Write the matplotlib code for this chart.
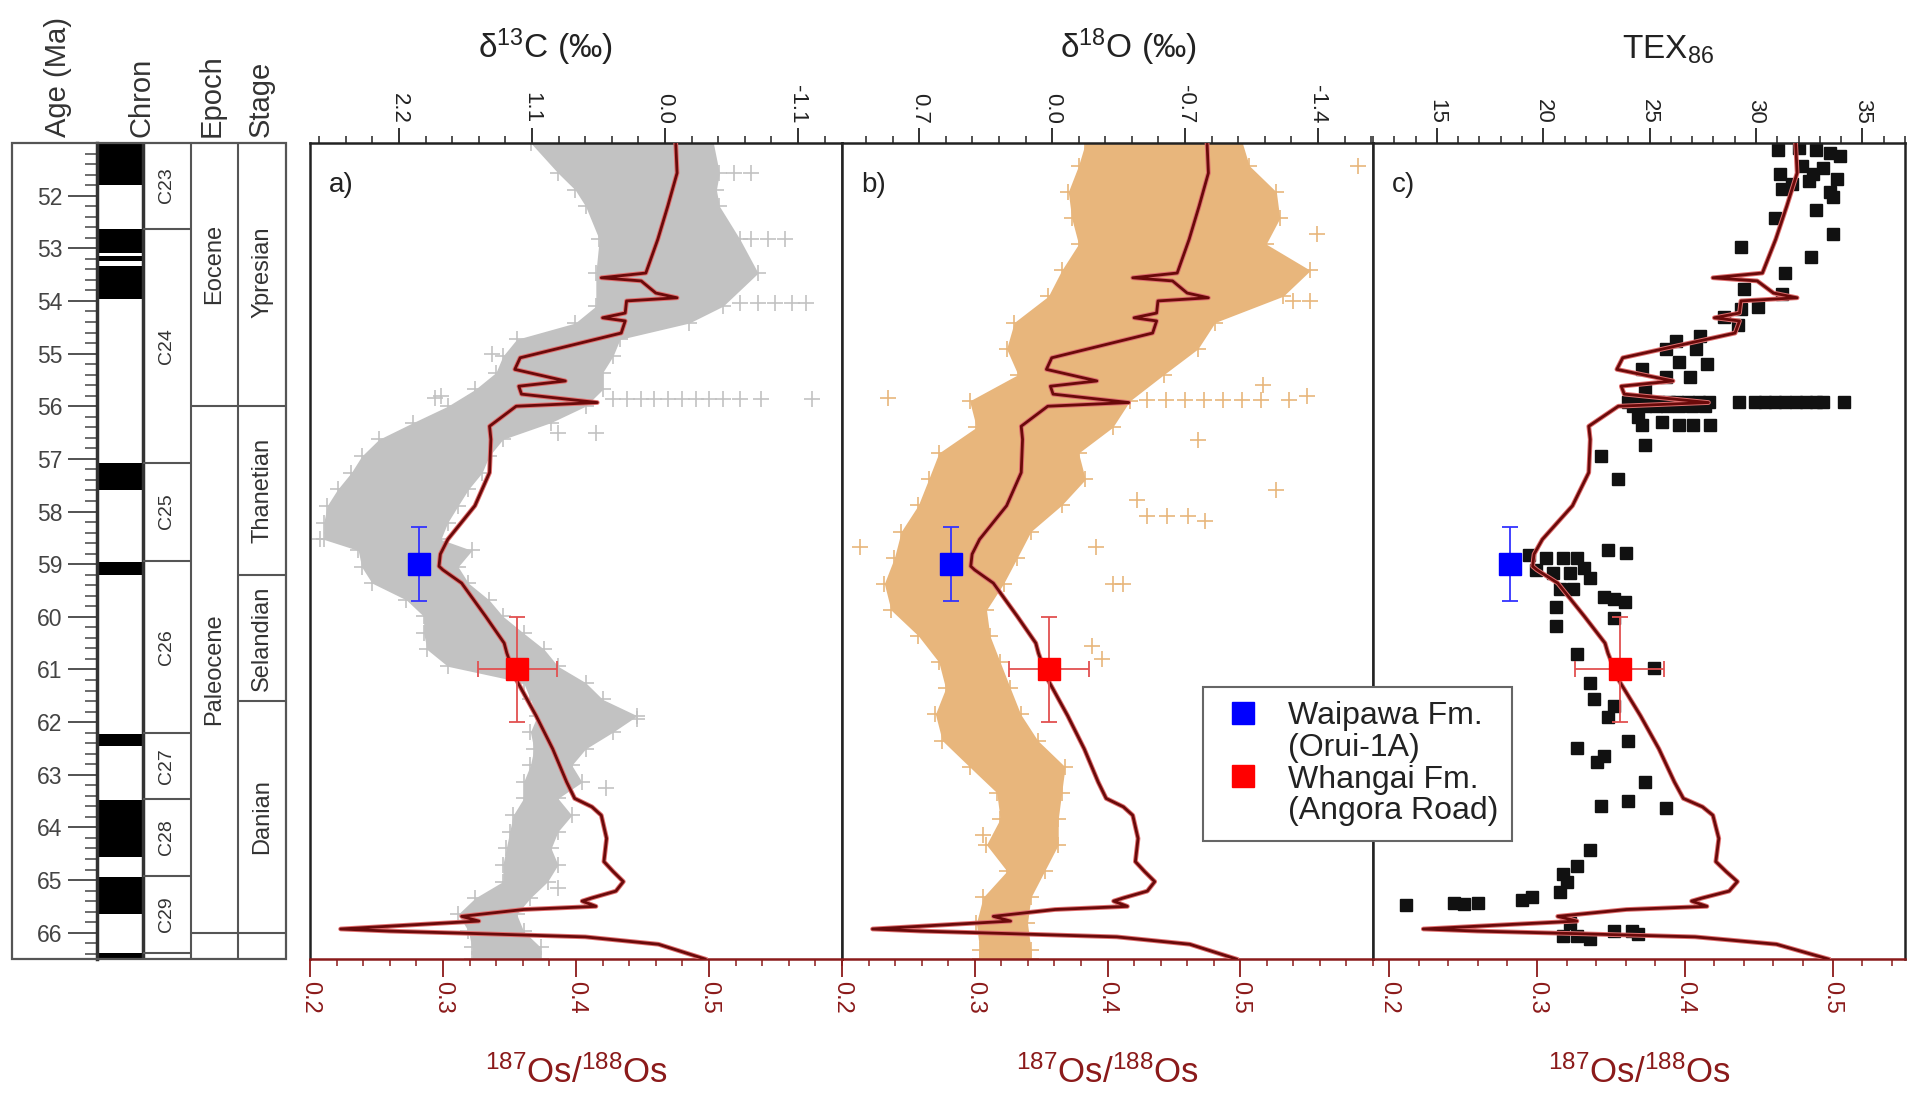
import matplotlib as mpl
mpl.use('Agg')
import matplotlib.pyplot as plt
import matplotlib.patheffects as pe
from matplotlib.lines import Line2D
from matplotlib.patches import Rectangle
from matplotlib.ticker import FixedLocator, MultipleLocator, FormatStrFormatter

plt.rcParams['font.family'] = ['Liberation Sans', 'DejaVu Sans']
plt.rcParams['mathtext.fontset'] = 'custom'
plt.rcParams['mathtext.rm'] = 'Liberation Sans'
plt.rcParams['mathtext.it'] = 'Liberation Sans:italic'
plt.rcParams['mathtext.default'] = 'regular'

age_top, age_bottom = 51.0, 66.5
age_ticks = list(range(52, 67))

# --- timescale column ---
chron_normal = [(51.0, 51.79), (52.64, 53.08), (53.14, 53.25), (53.34, 53.97),
                (57.08, 57.59), (58.96, 59.20), (62.22, 62.45), (63.48, 64.56),
                (64.94, 65.64), (66.38, 66.5)]
chron_bounds = [52.64, 57.07, 58.94, 62.2, 63.46, 64.92, 66.38]
chron_names = ['C23', 'C24', 'C25', 'C26', 'C27', 'C28', 'C29']
chron_mid = [51.8, 54.85, 58.0, 60.57, 62.83, 64.19, 65.65]
epoch_bounds = [56.0, 66.0]
epoch_names = ['Eocene', 'Paleocene']
epoch_mid = [53.3, 61.0]
stage_bounds = [56.0, 59.2, 61.6, 66.0]
stage_names = ['Ypresian', 'Thanetian', 'Selandian', 'Danian']
stage_mid = [53.45, 57.6, 60.4, 63.8]

# --- 187Os/188Os record ---
os_age = [51.0, 51.57, 52.20, 52.83, 53.47, 53.56, 53.62, 53.85, 53.94, 54.00,
          54.23, 54.32, 54.38, 54.61, 55.08, 55.30, 55.52, 55.62, 55.77, 55.93,
          56.00, 56.38, 56.63, 57.26, 57.89, 58.53, 58.81, 59.04, 59.11, 59.36,
          59.99, 60.50, 60.69, 61.19, 61.88, 62.51, 63.14, 63.45, 63.61, 63.77,
          64.21, 64.65, 64.84, 65.03, 65.21, 65.34, 65.40, 65.50, 65.56, 65.69,
          65.78, 65.84, 65.93, 65.97, 66.02, 66.08, 66.22, 66.5]
os_val = [0.475, 0.476, 0.469, 0.4615, 0.4525, 0.419, 0.449, 0.460, 0.476, 0.438,
          0.437, 0.420, 0.437, 0.434, 0.358, 0.354, 0.392, 0.357, 0.359, 0.416,
          0.355, 0.335, 0.336, 0.335, 0.324, 0.3036, 0.298, 0.297, 0.300, 0.314,
          0.332, 0.346, 0.348, 0.355, 0.370, 0.3825, 0.393, 0.399, 0.412, 0.419,
          0.423, 0.421, 0.428, 0.4356, 0.430, 0.412, 0.4046, 0.415, 0.3605, 0.314,
          0.327, 0.285, 0.223, 0.2596, 0.329, 0.407, 0.462, 0.497]

# Waipawa Fm. (Orui-1A) and Whangai Fm. (Angora Road)
site_age = [59.0, 61.0]
site_os = [0.282, 0.356]
site_age_err = [0.7, 1.0]
site_os_err = [0.0, 0.03]
site_color = ['#0000ff', '#ff0000']
site_ecolor = ['#3333ff', '#e25050']
site_label = ['Waipawa Fm.', 'Whangai Fm.']
site_note = ['(Orui-1A)', '(Angora Road)']

# --- benthic d13C cloud ---
c13_age = [51.0, 51.57, 51.89, 52.20, 52.83, 53.47, 54.10, 54.42, 54.73, 55.05,
           55.36, 55.68, 56.00, 56.31, 56.63, 56.95, 57.26, 57.58, 57.89, 58.21,
           58.53, 58.74, 59.05, 59.36, 59.68, 59.99, 60.31, 60.62, 60.94, 61.25,
           61.57, 61.88, 62.19, 62.51, 62.82, 63.14, 63.45, 63.77, 64.08, 64.40,
           64.71, 65.03, 65.34, 65.65, 65.97, 66.28, 66.5]
c13_hi = [1.11, 0.885, 0.743, 0.657, 0.544, 0.572, 0.572, 0.743, 1.227, 1.341,
          1.398, 1.569, 1.797, 2.082, 2.366, 2.509, 2.594, 2.708, 2.794, 2.822,
          2.822, 2.537, 2.509, 2.423, 2.139, 1.996, 1.996, 1.968, 1.797, 1.170,
          1.113, 1.056, 1.113, 1.084, 1.113, 1.170, 1.170, 1.256, 1.284, 1.313,
          1.341, 1.341, 1.569, 1.711, 1.626, 1.597, 1.597]
c13_lo = [-0.40, -0.45, -0.425, -0.45, -0.62, -0.77, -0.48, -0.20, 0.373, 0.43,
          0.515, 0.515, 0.657, 0.942, 1.341, 1.455, 1.512, 1.626, 1.711, 1.797,
          1.854, 1.597, 1.711, 1.626, 1.455, 1.341, 1.170, 0.999, 0.885, 0.657,
          0.515, 0.23, 0.43, 0.657, 0.771, 0.686, 0.885, 0.771, 0.885, 0.942,
          0.885, 0.971, 1.113, 1.227, 1.170, 1.028, 1.028]
c13_out_age = [55.87, 55.87, 55.87, 55.87, 55.87, 55.87, 55.87, 55.87, 55.87, 55.87,
               55.87, 55.87, 54.04, 54.04, 54.04, 54.04, 54.04, 52.83, 52.83, 52.83,
               51.57, 51.57, 55.0, 55.8, 55.8, 56.5, 56.5, 58.53, 58.4, 61.95,
               61.95, 63.25, 65.15, 55.84]
c13_out_val = [0.43, 0.316, 0.202, 0.088, -0.026, -0.14, -0.254, -0.368, -0.48, -0.62,
               -0.795, -1.22, -0.62, -0.77, -0.91, -1.05, -1.17, -0.71, -0.85, -0.99,
               -0.57, -0.71, 1.43, 1.85, 1.57, 0.885, 0.57, 2.85, 2.75, 0.37,
               0.23, 0.49, 0.885, 1.90]

# --- benthic d18O cloud ---
o18_age = [51.0, 51.43, 51.93, 52.43, 52.92, 53.42, 53.91, 54.41, 54.91, 55.40,
           55.90, 56.40, 56.89, 57.39, 57.88, 58.38, 58.88, 59.37, 59.87, 60.36,
           60.86, 61.36, 61.85, 62.35, 62.85, 63.34, 63.84, 64.33, 64.83, 65.33,
           65.82, 66.32, 66.5]
o18_hi = [-0.175, -0.139, -0.085, -0.103, -0.139, -0.050, 0.02, 0.20, 0.24, 0.18,
          0.435, 0.399, 0.597, 0.651, 0.705, 0.795, 0.831, 0.884, 0.849, 0.705,
          0.597, 0.561, 0.615, 0.579, 0.435, 0.292, 0.274, 0.346, 0.238, 0.364,
          0.399, 0.382, 0.382]
o18_lo = [-1.002, -1.038, -1.181, -1.199, -1.127, -1.36, -1.217, -0.858, -0.768, -0.588,
          -0.409, -0.319, -0.139, -0.175, -0.050, 0.112, 0.184, 0.256, 0.346, 0.328,
          0.274, 0.220, 0.166, 0.076, -0.068, -0.050, -0.032, -0.032, 0.040, 0.112,
          0.130, 0.112, 0.112]
o18_out_age = [55.85, 55.80, 55.60, 56.64, 57.59, 57.78, 58.08, 58.08, 58.08, 58.18,
               58.68, 58.68, 59.37, 59.37, 60.56, 60.81, 64.14, 51.43, 52.72, 54.01,
               54.01, 53.91, 55.88, 55.88, 55.88, 55.88, 55.88, 55.88, 55.88, 55.88]
o18_out_val = [0.867, -1.343, -1.11, -0.768, -1.18, -0.445, -0.499, -0.606, -0.714, -0.804,
               1.01, -0.229, -0.319, -0.373, -0.211, -0.265, 0.364, -1.612, -1.397, -1.271,
               -1.36, -1.0, -0.50, -0.60, -0.70, -0.80, -0.90, -1.0, -1.1, -1.25]

# --- TEX86 ---
tex_age = [51.14, 51.09, 51.14, 51.19, 51.24, 51.58, 51.43, 51.58, 51.48, 51.68,
           51.88, 51.78, 51.73, 51.93, 52.03, 52.28, 52.43, 52.72, 52.97, 53.17,
           53.47, 53.77, 53.87, 54.11, 54.16, 54.31, 54.46, 54.66, 54.76, 54.91,
           54.91, 55.16, 55.20, 55.30, 55.45, 55.45, 55.70,
           55.92, 55.92, 55.92, 55.92, 55.92, 55.92, 55.92, 55.92, 55.92,
           56.0, 56.0, 56.0, 56.0, 56.0, 56.0, 56.0,
           55.92, 55.92, 55.92, 55.92, 55.92, 55.92, 55.92, 55.92, 55.92, 55.92,
           56.20, 56.35, 56.30, 56.35, 56.35, 56.35, 56.74, 56.94, 57.39,
           58.83, 58.88, 59.12, 59.17, 58.88, 58.88, 59.07, 59.17, 59.27, 58.73,
           58.78, 59.47, 59.47, 59.82, 59.62, 59.67, 59.72, 60.02, 60.17, 60.71,
           60.98, 61.26, 61.56, 61.70, 61.90, 62.50, 62.35, 62.65, 62.75, 63.14,
           63.59, 63.49, 63.64, 64.43, 64.73, 64.88, 65.03, 65.23, 65.47, 65.43,
           65.45, 65.43, 65.38, 65.33, 65.82, 66.07, 66.07, 66.12, 65.97, 65.97,
           66.02]
tex_val = [31.05, 32.02, 32.82, 33.46, 33.95, 31.13, 32.18, 32.66, 33.14, 33.79,
           31.22, 31.70, 32.50, 33.46, 33.62, 32.82, 30.89, 33.62, 29.29, 32.58,
           31.38, 29.45, 31.22, 30.09, 29.29, 28.48, 29.13, 27.36, 26.24, 25.75,
           27.20, 26.40, 27.68, 24.63, 25.75, 26.88, 24.79,
           24.0, 24.5, 25.0, 25.4, 25.9, 26.3, 26.8, 27.3, 27.8,
           24.2, 24.8, 25.3, 25.8, 26.4, 27.0, 27.6,
           29.21, 29.93, 30.41, 30.89, 31.38, 31.86, 32.34, 32.82, 33.14, 34.11,
           24.47, 24.63, 25.59, 26.40, 27.04, 27.84, 24.79, 22.70, 23.50,
           19.33, 20.13, 19.65, 20.45, 20.94, 21.58, 21.90, 21.26, 22.22, 23.02,
           23.91, 20.77, 21.42, 20.61, 22.86, 23.34, 23.83, 23.34, 20.61, 21.58,
           25.19, 22.22, 22.38, 23.34, 23.02, 21.58, 23.99, 22.86, 22.54, 24.79,
           22.70, 23.99, 25.75, 22.22, 21.58, 20.94, 21.10, 20.77, 13.55, 15.80,
           16.28, 16.92, 19.01, 19.49, 21.26, 20.94, 21.58, 22.22, 23.34, 24.15,
           24.47]

W, H = 1923.0, 1095.0
OS_RED = '#8b1a1a'
INK = '#222222'


def box(x0, y0, x1, y1):
    return [x0 / W, 1 - y1 / H, (x1 - x0) / W, (y1 - y0) / H]


fig = plt.figure(figsize=(W / 100, H / 100), dpi=100)

# timescale column
col = fig.add_axes(box(12, 143, 286, 959))
col.set_xlim(0, 1)
col.set_ylim(age_bottom, age_top)
x_chron0, x_chron1, x_epoch, x_stage = 0.310, 0.478, 0.653, 0.825
for s in ['top', 'right', 'bottom']:
    col.spines[s].set_visible(False)
col.spines['left'].set_position(('axes', x_chron0))
col.spines['left'].set_linewidth(2.5)
col.spines['left'].set_color('#333333')
col.set_xticks([])
col.yaxis.set_major_locator(FixedLocator(age_ticks))
col.yaxis.set_minor_locator(MultipleLocator(0.2))
col.tick_params(axis='y', which='major', direction='out', length=21, width=1.3,
                labelsize=16.5, pad=4, colors='#444444')
col.tick_params(axis='y', which='minor', direction='out', length=8.5, width=1.1,
                colors='#444444')
col.add_patch(Rectangle((0, 0), 1, 1, transform=col.transAxes, fill=False,
                        lw=1.6, ec='#555555', zorder=5, clip_on=False))
for a0, a1 in chron_normal:
    col.axhspan(a0, a1, xmin=x_chron0, xmax=x_chron1, color='black', lw=0)
col.axvline(x_chron1, color='#333333', lw=2.5)
col.axvline(x_epoch, color='#555555', lw=1.5)
col.axvline(x_stage, color='#555555', lw=1.5)
col.hlines(chron_bounds, x_chron1, x_epoch, color='#555555', lw=1.5)
col.hlines(epoch_bounds, x_epoch, x_stage, color='#555555', lw=1.5)
col.hlines(stage_bounds, x_stage, 1, color='#555555', lw=1.5)
for name, mid in zip(chron_names, chron_mid):
    col.text((x_chron1 + x_epoch) / 2, mid, name, rotation=90, ha='center',
             va='center', fontsize=14, color='#333333')
for name, mid in zip(epoch_names, epoch_mid):
    col.text((x_epoch + x_stage) / 2, mid, name, rotation=90, ha='center',
             va='center', fontsize=17, color='#333333')
for name, mid in zip(stage_names, stage_mid):
    col.text((x_stage + 1) / 2, mid, name, rotation=90, ha='center',
             va='center', fontsize=17, color='#333333')
for name, xc in [('Age (Ma)', 0.168), ('Chron', 0.471), ('Epoch', 0.730), ('Stage', 0.909)]:
    col.text(xc, 1.007, name, rotation=90, ha='center', va='bottom',
             fontsize=21, color='#333333', transform=col.transAxes)


def panel(rect, proxy_lim, proxy_ticks, proxy_minor, proxy_fmt, os_lim,
          letter, title, title_x):
    ax = fig.add_axes(rect)
    ax.set_ylim(age_bottom, age_top)
    ax.set_xlim(*proxy_lim)
    ax.set_yticks([])

    osx = ax.twiny()
    osx.set_xlim(*os_lim)
    osx.set_ylim(age_bottom, age_top)

    # twiny moves the host ticks to the bottom, so put them back on top
    ax.xaxis.set_ticks_position('top')
    ax.tick_params(axis='x', which='both', labeltop=True, labelbottom=False)
    ax.xaxis.set_major_locator(FixedLocator(proxy_ticks))
    ax.xaxis.set_minor_locator(MultipleLocator(proxy_minor))
    ax.xaxis.set_major_formatter(FormatStrFormatter(proxy_fmt))
    ax.tick_params(axis='x', which='major', direction='out', length=11, width=1.3,
                   labelsize=16, labelrotation=-90, pad=3, colors=INK)
    ax.tick_params(axis='x', which='minor', direction='out', length=5, width=1.1,
                   colors=INK)
    ax.spines['bottom'].set_visible(False)
    for s in ['top', 'left', 'right']:
        ax.spines[s].set_linewidth(1.8)
        ax.spines[s].set_color('#222222')
    ax.text(0.036, 0.949, letter, transform=ax.transAxes, fontsize=20,
            va='center', ha='left', color=INK)
    ax.text(title_x, 1.104, title, transform=ax.transAxes, fontsize=24,
            ha='center', va='baseline', color=INK)

    osx.xaxis.set_ticks_position('bottom')
    osx.xaxis.set_label_position('bottom')
    osx.xaxis.set_major_locator(FixedLocator([0.2, 0.3, 0.4, 0.5]))
    osx.xaxis.set_minor_locator(MultipleLocator(0.02))
    osx.xaxis.set_major_formatter(FormatStrFormatter('%.1f'))
    osx.tick_params(axis='x', which='major', direction='out', length=13, width=1.3,
                    labelsize=17, labelrotation=-90, pad=3, colors=OS_RED)
    osx.tick_params(axis='x', which='minor', direction='out', length=5, width=1.1,
                    colors=OS_RED)
    for s in ['top', 'left', 'right']:
        osx.spines[s].set_visible(False)
    osx.spines['bottom'].set_color(OS_RED)
    osx.spines['bottom'].set_linewidth(1.8)
    osx.text(0.5, -0.152, r'$^{187}$Os/$^{188}$Os', transform=osx.transAxes,
             fontsize=25, ha='center', va='baseline', color=OS_RED)

    osx.plot(os_val, os_age, color='#6a0a0a', lw=2.0, zorder=3,
             path_effects=[pe.Stroke(linewidth=3.4, foreground='#e07070'), pe.Normal()])
    for k in range(len(site_age)):
        osx.errorbar(site_os[k], site_age[k], xerr=site_os_err[k], yerr=site_age_err[k],
                     fmt='s', ms=16, mfc=site_color[k], mec=site_color[k],
                     ecolor=site_ecolor[k], elinewidth=1.3, capsize=6, capthick=1.3,
                     zorder=4)
    return ax, osx


ax_a, os_a = panel(box(310, 143, 842, 959), (2.936, -1.464), [2.2, 1.1, 0.0, -1.1],
                   0.22, '%.1f', (0.2, 0.6), 'a)', r'δ$^{13}$C (‰)', 0.442)
ax_b, os_b = panel(box(842, 143, 1373, 959), (1.107, -1.69), [0.7, 0.0, -0.7, -1.4],
                   0.14, '%.1f', (0.2, 0.6), 'b)', r'δ$^{18}$O (‰)', 0.539)
ax_c, os_c = panel(box(1373, 143, 1905, 959), (12.0, 37.0), [15, 20, 25, 30, 35],
                   1, '%d', (0.189, 0.549), 'c)', r'TEX$_{86}$', 0.555)

# isotope clouds
gray, tan = '#c2c2c2', '#e8b67c'
ax_a.fill_betweenx(c13_age, c13_lo, c13_hi, color=gray, lw=0)
for xs, ys in [(c13_hi, c13_age), (c13_lo, c13_age), (c13_out_val, c13_out_age)]:
    ax_a.plot(xs, ys, '+', ms=12, mew=1.2, color=gray)
ax_b.fill_betweenx(o18_age, o18_lo, o18_hi, color=tan, lw=0)
for xs, ys in [(o18_hi, o18_age), (o18_lo, o18_age), (o18_out_val, o18_out_age)]:
    ax_b.plot(xs, ys, '+', ms=12, mew=1.2, color=tan)
ax_c.plot(tex_val, tex_age, 's', ms=8.5, color='#111111', lw=0)

handles = [Line2D([], [], ls='none', marker='s', ms=16, color=site_color[0]),
           Line2D([], [], ls='none'),
           Line2D([], [], ls='none', marker='s', ms=16, color=site_color[1]),
           Line2D([], [], ls='none')]
labels = [site_label[0], site_note[0], site_label[1], site_note[1]]
leg = fig.legend(handles, labels, loc='upper left', bbox_to_anchor=(1203 / W, 1 - 687 / H),
                 borderaxespad=0, fontsize=23, fancybox=False, edgecolor='#666666',
                 framealpha=1, labelspacing=0.05, handlelength=1.6, handletextpad=0.6,
                 borderpad=0.45)
leg.get_frame().set_linewidth(1.5)
for t in leg.get_texts():
    t.set_color(INK)

fig.savefig('out.png', dpi=100)
